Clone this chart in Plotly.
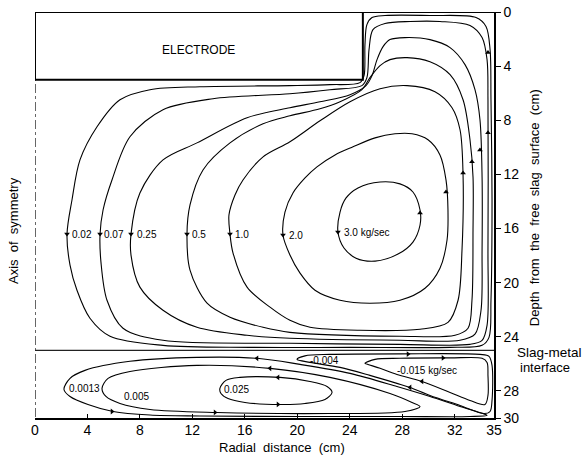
import plotly.graph_objects as go

# ---------------- data (radial distance r [cm], depth d [cm]) ----------------
# slag-pool stream lines (kg/sec)
sl_002_r = [2.44, 2.67, 3.2, 4.19, 5.72, 9.76, 16.39, 24.02, 31.65, 34.09, 34.62, 34.77, 34.85, 34.77, 34.7, 34.39, 33.63, 30.12, 26.69, 25.7, 25.31, 25.16, 25.09, 24.78, 22.49, 19.44, 12.58, 8.77, 6.48, 4.73, 3.43, 2.82, 2.44]
sl_002_d = [16.41, 18.7, 20.56, 22.63, 23.96, 24.63, 24.78, 24.78, 24.78, 24.63, 24.04, 21.3, 13.89, 6.48, 2.78, 1.07, 0.41, 0.26, 0.26, 0.41, 0.93, 2.41, 4.7, 5.22, 5.37, 5.44, 5.52, 5.74, 6.48, 8.48, 10.93, 13.89, 16.41]

sl_007_r = [4.96, 5.03, 5.49, 6.71, 9.76, 19.44, 27.83, 33.17, 34.09, 34.47, 34.54, 34.54, 34.47, 34.09, 33.17, 30.88, 28.6, 26.69, 25.77, 25.47, 25.31, 24.93, 22.49, 19.44, 13.57, 9.76, 7.24, 5.87, 5.19, 4.96]
sl_007_d = [16.41, 18.48, 21.3, 23.37, 24.26, 24.48, 24.56, 24.56, 24.26, 23.15, 17.59, 6.48, 3.52, 1.89, 1.0, 0.7, 0.7, 0.85, 1.3, 2.78, 4.85, 5.44, 5.74, 6.04, 6.41, 7.22, 9.22, 12.41, 14.63, 16.41]

sl_025_r = [7.32, 7.32, 8.0, 9.76, 12.35, 16.17, 19.44, 27.83, 32.41, 33.55, 34.01, 34.09, 34.09, 33.93, 33.55, 32.79, 31.65, 30.12, 28.21, 27.07, 26.54, 26.08, 25.7, 25.24, 24.02, 21.73, 19.44, 16.17, 12.35, 9.76, 8.0, 7.32]
sl_025_d = [16.41, 17.96, 20.33, 22.04, 23.3, 23.89, 24.11, 24.26, 24.26, 23.81, 22.04, 17.59, 12.19, 7.96, 5.74, 3.89, 2.63, 2.04, 1.89, 2.04, 2.56, 3.52, 4.7, 5.44, 6.11, 6.63, 7.07, 7.81, 9.67, 10.93, 13.37, 16.41]

sl_05_r = [11.59, 11.82, 13.12, 14.87, 17.39, 19.44, 27.83, 32.03, 33.02, 33.32, 33.4, 33.4, 33.17, 32.64, 31.65, 30.12, 28.37, 27.07, 26.31, 25.54, 24.93, 23.26, 21.73, 19.44, 17.39, 14.87, 12.81, 11.82, 11.59]
sl_05_d = [16.41, 19.07, 21.52, 22.56, 23.3, 23.67, 23.96, 23.89, 23.37, 21.3, 16.11, 12.19, 9.44, 6.48, 4.63, 3.67, 3.37, 3.52, 3.96, 4.85, 5.74, 6.63, 7.15, 7.67, 8.26, 9.67, 11.67, 14.26, 16.41]

sl_10_r = [14.87, 15.1, 16.17, 17.92, 19.44, 20.97, 24.78, 29.36, 31.49, 32.26, 32.56, 32.64, 32.41, 31.8, 30.5, 28.37, 26.31, 24.02, 21.73, 19.44, 17.39, 15.86, 15.25, 14.79, 14.87]
sl_10_d = [16.41, 17.81, 20.33, 21.81, 22.78, 23.3, 23.52, 23.44, 22.93, 21.3, 17.59, 12.04, 8.7, 7.07, 5.89, 5.44, 5.67, 6.63, 8.04, 9.59, 10.7, 12.41, 13.52, 15.0, 16.41]

sl_20_r = [18.91, 19.44, 20.21, 21.35, 23.26, 25.54, 27.83, 29.74, 30.88, 31.42, 31.49, 31.34, 30.88, 29.97, 28.75, 27.45, 25.93, 24.25, 22.88, 21.5, 20.59, 19.67, 19.06, 18.91]
sl_20_d = [16.48, 17.96, 19.3, 20.56, 21.3, 21.52, 21.3, 20.41, 18.93, 16.85, 14.63, 12.41, 10.56, 9.44, 9.0, 9.0, 9.3, 9.96, 10.56, 11.44, 12.26, 13.37, 14.78, 16.48]

sl_30_r = [23.1, 23.56, 24.48, 25.93, 27.68, 28.82, 29.36, 29.36, 28.82, 27.83, 26.31, 24.63, 23.72, 23.26, 23.1]
sl_30_d = [16.26, 17.44, 18.19, 18.41, 17.89, 17.0, 15.74, 14.63, 13.3, 12.7, 12.56, 13.0, 13.74, 14.78, 16.26]

# metal-pool stream lines (kg/sec)
ml_0013_r = [2.21, 2.67, 3.81, 7.24, 12.35, 16.93, 20.21, 24.02, 27.6, 30.12, 32.41, 34.16, 34.47, 33.17, 27.83, 20.21, 12.58, 8.77, 5.95, 4.04, 2.67, 2.21]
ml_0013_d = [27.89, 27.07, 26.48, 25.81, 25.52, 25.59, 26.04, 26.7, 27.67, 28.41, 29.15, 29.67, 29.81, 29.89, 29.89, 29.89, 29.85, 29.78, 29.52, 29.0, 28.41, 27.89]

ml_005_r = [5.11, 5.57, 7.24, 12.35, 17.92, 22.49, 27.07, 28.75, 29.36, 28.21, 22.49, 13.88, 8.77, 6.48, 5.41, 5.11]
ml_005_d = [27.81, 27.07, 26.56, 26.11, 26.33, 27.0, 28.19, 28.85, 29.15, 29.52, 29.67, 29.59, 29.37, 28.93, 28.41, 27.81]

ml_025_r = [14.1, 14.56, 15.63, 18.68, 20.97, 22.27, 22.65, 22.11, 20.59, 18.68, 16.01, 14.72, 14.18, 14.1]
ml_025_d = [27.81, 27.22, 27.0, 27.0, 27.3, 27.67, 28.11, 28.63, 28.93, 29.0, 28.85, 28.56, 28.19, 27.81]

ml_m0004_r = [19.98, 20.59, 22.49, 27.83, 33.93, 34.62, 34.85, 34.85, 34.7, 34.24, 32.41, 30.12, 28.6, 27.6, 25.54, 23.26, 20.97, 19.98]
ml_m0004_d = [25.67, 25.41, 25.3, 25.26, 25.3, 25.44, 26.11, 28.7, 29.52, 29.67, 29.07, 28.33, 27.74, 27.44, 26.85, 26.26, 25.89, 25.67]

ml_m0015_r = [25.16, 25.93, 27.83, 31.65, 34.09, 34.47, 34.54, 34.54, 34.31, 33.17, 31.65, 29.51, 27.6, 26.31, 25.39, 25.16]
ml_m0015_d = [25.96, 25.67, 25.59, 25.56, 25.59, 25.89, 26.85, 28.33, 29.0, 28.7, 28.11, 27.3, 26.78, 26.33, 26.04, 25.96]

# stream-line labels
upper_labels = ["0.02", "0.07", "0.25", "0.5", "1.0", "2.0", "3.0 kg/sec"]
upper_label_r = [2.67, 5.11, 7.63, 11.82, 15.1, 19.22, 23.41]
upper_label_d = [16.41, 16.41, 16.41, 16.41, 16.41, 16.48, 16.26]

lower_labels = ["0.0013", "0.005", "0.025", "-0.004", "-0.015 kg/sec"]
lower_label_r = [2.44, 6.63, 14.26, 20.8, 27.45]
lower_label_d = [27.81, 28.41, 27.89, 25.74, 26.48]

# flow-direction arrows
arrow_down_r = [2.44, 4.96, 7.32, 11.59, 14.87, 18.91, 23.1]
arrow_down_d = [16.41, 16.41, 16.41, 16.41, 16.41, 16.48, 16.26]
arrow_up_r = [34.54, 34.54, 33.93, 33.32, 32.64, 31.34, 29.36]
arrow_up_d = [3.0, 8.93, 10.19, 11.07, 11.89, 13.3, 14.85]
arrow_left_r = [16.93, 17.92, 18.53, 29.51, 28.6]
arrow_left_d = [25.59, 26.33, 27.0, 27.3, 27.74]
arrow_right_r = [18.53, 13.73, 5.87, 31.11, 28.44]
arrow_right_d = [29.0, 29.59, 29.52, 25.56, 25.28]

x_ticks = [0, 4, 8, 12, 16, 20, 24, 28, 32, 35]
y_ticks = [0, 4, 8, 12, 16, 20, 24, 28, 30]

electrode_r = [0, 25]
electrode_d = [0, 5]
interface_d = 25

# ---------------- figure ----------------
FONT = "Liberation Sans, Arial, sans-serif"
fig = go.Figure()

lines = [
    (sl_002_r, sl_002_d), (sl_007_r, sl_007_d), (sl_025_r, sl_025_d), (sl_05_r, sl_05_d),
    (sl_10_r, sl_10_d), (sl_20_r, sl_20_d), (sl_30_r, sl_30_d),
    (ml_0013_r, ml_0013_d), (ml_005_r, ml_005_d), (ml_025_r, ml_025_d),
    (ml_m0004_r, ml_m0004_d), (ml_m0015_r, ml_m0015_d),
]
for r, d in lines:
    fig.add_trace(go.Scatter(x=r, y=d, mode="lines",
                             line=dict(color="black", width=1.1, shape="spline", smoothing=0.9),
                             hoverinfo="skip", showlegend=False, cliponaxis=False))

for rr, dd, sym in [(arrow_down_r, arrow_down_d, "triangle-down"),
                    (arrow_up_r, arrow_up_d, "triangle-up"),
                    (arrow_left_r, arrow_left_d, "triangle-left"),
                    (arrow_right_r, arrow_right_d, "triangle-right")]:
    fig.add_trace(go.Scatter(x=rr, y=dd, mode="markers",
                             marker=dict(symbol=sym, size=5, color="black"),
                             hoverinfo="skip", showlegend=False))

ann = []
for t, r, d in zip(upper_labels, upper_label_r, upper_label_d):
    ann.append(dict(x=r, y=d, text=t, showarrow=False, xanchor="left", yanchor="middle",
                    font=dict(family=FONT, size=10, color="black")))
for t, r, d in zip(lower_labels, lower_label_r, lower_label_d):
    ann.append(dict(x=r, y=d, text=t, showarrow=False, xanchor="left", yanchor="middle",
                    font=dict(family=FONT, size=10, color="black")))

ann.append(dict(x=(electrode_r[0] + electrode_r[1]) / 2, y=2.78, text="ELECTRODE", showarrow=False,
                xanchor="center", yanchor="middle", font=dict(family=FONT, size=12, color="black")))
nb = "\u00a0"
ann.append(dict(xref="paper", yref="paper", x=0.538, y=-0.073, text=f"Radial{nb}{nb}distance{nb}{nb}(cm)",
                xanchor="center", yanchor="middle",
                showarrow=False, font=dict(family=FONT, size=13, color="black")))
ann.append(dict(xref="paper", yref="paper", x=-0.048, y=0.463, text=f"Axis{nb}{nb}of{nb}{nb}symmetry",
                xanchor="center", yanchor="middle",
                showarrow=False, textangle=-90, font=dict(family=FONT, size=13, color="black")))
ann.append(dict(xref="paper", yref="paper", x=1.087, y=0.519,
                text=f"Depth{nb}{nb}from{nb}{nb}the{nb}{nb}free{nb}{nb}slag{nb}{nb}surface{nb}{nb}(cm)",
                xanchor="center", yanchor="middle",
                showarrow=False, textangle=-90, font=dict(family=FONT, size=13, color="black")))
ann.append(dict(xref="paper", yref="paper", x=1.046, y=0.162, text="Slag-metal", xanchor="left",
                yanchor="middle", showarrow=False, font=dict(family=FONT, size=13.5, color="black")))
ann.append(dict(xref="paper", yref="paper", x=1.052, y=0.124, text="interface", xanchor="left",
                yanchor="middle", showarrow=False, font=dict(family=FONT, size=13, color="black")))
ann.append(dict(x=35.3, y=interface_d, xref="x", yref="y", ax=14, ay=0, text="", showarrow=True,
                arrowhead=2, arrowsize=1, arrowwidth=1, arrowcolor="black"))

shapes = [
    dict(type="rect", xref="x", yref="y", x0=electrode_r[0], x1=electrode_r[1], y0=electrode_d[0], y1=electrode_d[1],
         line=dict(color="black", width=2)),
    dict(type="line", xref="x", yref="y", x0=0, x1=35, y0=0, y1=0, line=dict(color="black", width=2)),
    dict(type="line", xref="x", yref="y", x0=0, x1=0, y0=0, y1=30, line=dict(color="black", width=1.2, dash="dashdot")),
    dict(type="line", xref="x", yref="y", x0=0, x1=35, y0=interface_d, y1=interface_d,
         line=dict(color="#222", width=1.4)),
]

fig.update_layout(
    width=583, height=456,
    margin=dict(l=35, r=89, t=12, b=38, autoexpand=False),
    paper_bgcolor="white", plot_bgcolor="white",
    annotations=ann, shapes=shapes,
    xaxis=dict(range=[0, 35], tickvals=x_ticks, ticktext=[str(v) for v in x_ticks], automargin=False,
               showgrid=False, zeroline=False, showline=True, linecolor="black", linewidth=2,
               ticks="inside", ticklen=4, tickcolor="black", ticklabeloverflow="allow",
               ticklabelstandoff=-2,
               tickfont=dict(family=FONT, size=14, color="black")),
    yaxis=dict(range=[30, 0], side="right", tickvals=y_ticks, ticktext=[str(v) for v in y_ticks], automargin=False,
               showgrid=False, zeroline=False, showline=True, linecolor="black", linewidth=1.5,
               ticks="outside", ticklen=5, tickcolor="black", ticklabeloverflow="allow",
               tickfont=dict(family=FONT, size=14, color="black")),
)

# remove the browser's default 8 px page margin so the figure fills the window
fig.write_html("out.html", config={"displayModeBar": False},
               post_script="document.body.style.margin='0';")
